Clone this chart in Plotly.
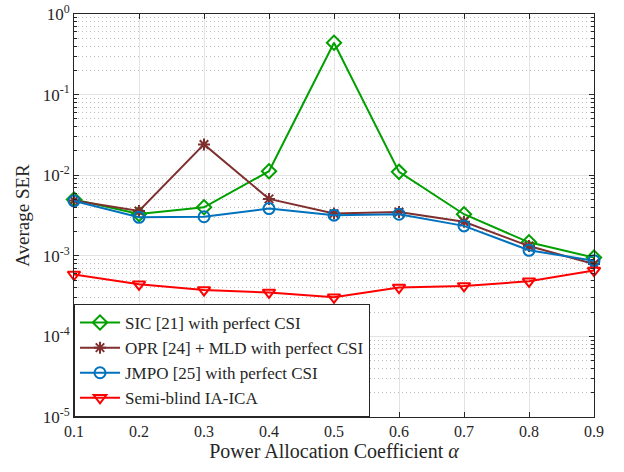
import plotly.graph_objects as go

# Power allocation coefficient values
alpha = [0.1, 0.2, 0.3, 0.4, 0.5, 0.6, 0.7, 0.8, 0.9]

# Average SER per scheme
ser_sic = [5.0e-3, 3.3e-3, 4.0e-3, 1.12e-2, 0.44, 1.1e-2, 3.28e-3, 1.47e-3, 9.5e-4]
ser_opr = [4.85e-3, 3.6e-3, 2.41e-2, 5.08e-3, 3.34e-3, 3.5e-3, 2.65e-3, 1.32e-3, 7.9e-4]
ser_jmpo = [4.8e-3, 3.0e-3, 3.05e-3, 3.85e-3, 3.19e-3, 3.28e-3, 2.35e-3, 1.17e-3, 8.7e-4]
ser_ica = [5.86e-4, 4.43e-4, 3.75e-4, 3.51e-4, 3.05e-4, 4.04e-4, 4.23e-4, 4.82e-4, 6.55e-4]

names = [
    "SIC [21] with perfect CSI",
    "OPR [24] + MLD with perfect CSI",
    "JMPO [25] with perfect CSI",
    "Semi-blind IA-ICA",
]

y_tickvals = [1e-5, 1e-4, 1e-3, 1e-2, 1e-1, 1e0]
y_ticktext = ["10<sup>-5</sup>", "10<sup>-4</sup>", "10<sup>-3</sup>",
              "10<sup>-2</sup>", "10<sup>-1</sup>", "10<sup>0</sup>"]
x_tickvals = alpha
x_ticktext = ["0.1", "0.2", "0.3", "0.4", "0.5", "0.6", "0.7", "0.8", "0.9"]

FONT = "'Liberation Serif', 'Times New Roman', serif"

styles = [
    dict(color="#00A000", symbol="diamond-open", size=11),
    dict(color="#7E2F2E", symbol="asterisk-open", size=10),
    dict(color="#0072BD", symbol="circle-open", size=11),
    dict(color="#FF0000", symbol="triangle-down-open", size=11),
]

fig = go.Figure()
for name, ys, st in zip(names, [ser_sic, ser_opr, ser_jmpo, ser_ica], styles):
    fig.add_trace(go.Scatter(
        x=alpha, y=ys, name=name, mode="lines+markers", cliponaxis=False,
        line=dict(color=st["color"], width=2),
        marker=dict(symbol=st["symbol"], size=st["size"], color=st["color"],
                    line=dict(color=st["color"], width=2)),
    ))

fig.update_layout(
    width=624, height=472,
    margin=dict(l=74, r=30, t=14, b=55, autoexpand=False),
    paper_bgcolor="white", plot_bgcolor="white",
    font=dict(family=FONT, size=16, color="#262626"),
    showlegend=True,
    legend=dict(
        x=0, y=0, xanchor="left", yanchor="bottom",
        bgcolor="white", bordercolor="#262626", borderwidth=1,
        font=dict(family=FONT, size=17, color="#262626"),
        tracegroupgap=0, itemwidth=40,
    ),
    xaxis=dict(
        range=[0.1, 0.9], automargin=False,
        tickvals=x_tickvals, ticktext=x_ticktext,
        ticks="inside", ticklen=5, tickcolor="#262626",
        showline=True, linecolor="#262626", linewidth=1, mirror="ticks",
        showgrid=True, gridcolor="#E3E3E3", gridwidth=1,
        zeroline=False, ticklabeloverflow="allow",
        title=dict(text="Power Allocation Coefficient <i>α</i>",
                   font=dict(family=FONT, size=20), standoff=4),
        tickfont=dict(family=FONT, size=16),
    ),
    yaxis=dict(
        type="log", range=[-5.0005, 0.0005], automargin=False,
        tickvals=y_tickvals, ticktext=y_ticktext,
        ticks="inside", ticklen=5, tickcolor="#262626",
        showline=True, linecolor="#262626", linewidth=1, mirror="ticks",
        showgrid=True, gridcolor="#E3E3E3", gridwidth=1,
        zeroline=False, ticklabeloverflow="allow",
        minor=dict(dtick="D1", ticks="inside", ticklen=3, tickcolor="#262626",
                   showgrid=True, gridcolor="#BEBEBE", griddash="1px,3px", gridwidth=1),
        title=dict(text="Average SER", font=dict(family=FONT, size=19), standoff=8),
        tickfont=dict(family=FONT, size=17),
    ),
)

fig.write_html("out.html")
